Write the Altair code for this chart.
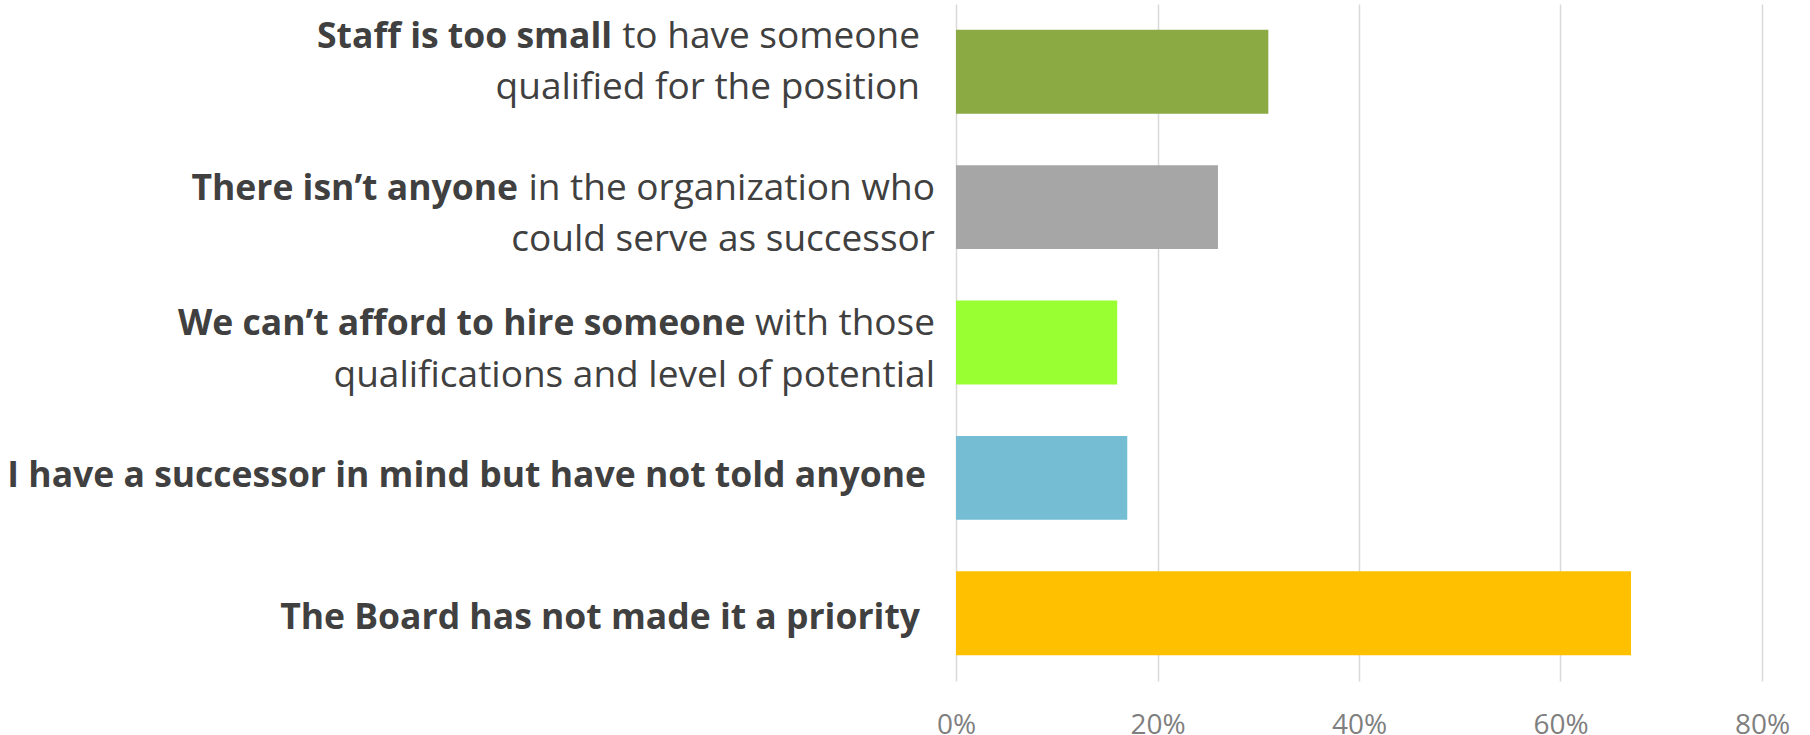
import altair as alt
import pandas as pd

# ---- data ----
categories = [
    "Staff is too small",
    "There isn't anyone",
    "We can't afford to hire someone",
    "I have a successor in mind",
    "The Board has not made it a priority",
]
values = [0.31, 0.26, 0.16, 0.17, 0.67]
colors = ["#8BAA44", "#A6A6A6", "#99FF33", "#75BDD3", "#FFC000"]
x_ticks = [0, 0.2, 0.4, 0.6, 0.8]

# label text pieces: (text, bold) per line
label_lines = [
    [[("Staff is too small", True), (" to have someone", False)],
     [("qualified for the position", False)]],
    [[("There isn\u2019t anyone", True), (" in the organization who", False)],
     [("could serve as successor", False)]],
    [[("We can\u2019t afford to hire someone", True), (" with those", False)],
     [("qualifications and level of potential", False)]],
    [[("I have a successor in mind but have not told anyone", True)]],
    [[("The Board has not made it a priority", True)]],
]

# ---- styling (pixel offsets for the label text) ----
FONT = "Open Sans"
FS_BOLD = 35.5
FS_NORMAL = 37
TEXT_COLOR = "#404040"
right_dx = [-36, -21, -21, -30, -36]
line_dy = [[-23.7, 27.3], [-7.3, 43.5], [-7.5, 44.2], [9.0], [15.3]]
# approximate advance widths (in em) of the regular pieces that follow a bold run
normal_em = {" to have someone": 8.322, " in the organization who": 11.27, " with those": 5.124}

df = pd.DataFrame({"cat": categories, "value": values})

y_enc = alt.Y("cat:N", sort=categories,
              scale=alt.Scale(domain=categories, paddingInner=0.38, paddingOuter=0.19),
              axis=None)

bars = alt.Chart(df).mark_bar().encode(
    y=y_enc,
    x=alt.X("value:Q",
            scale=alt.Scale(domain=[0, 0.8], nice=False),
            axis=alt.Axis(format=".0%", values=x_ticks, grid=True, gridColor="#D9D9D9",
                          gridWidth=1.5, domain=False, ticks=False, labelFontSize=28,
                          labelFont=FONT, labelColor="#7F7F7F", labelPadding=30,
                          labelFlush=False, title=None)),
    color=alt.Color("cat:N", scale=alt.Scale(domain=categories, range=colors), legend=None),
)

layers = [bars]
for i, lines in enumerate(label_lines):
    for j, pieces in enumerate(lines):
        offset = 0
        for text, bold in reversed(pieces):
            piece_df = pd.DataFrame({"cat": [categories[i]], "text": [text]})
            layers.append(
                alt.Chart(piece_df).mark_text(
                    align="right", baseline="alphabetic",
                    dx=right_dx[i] - offset, dy=line_dy[i][j],
                    font=FONT, fontSize=FS_BOLD if bold else FS_NORMAL,
                    fontWeight="bold" if bold else "normal",
                    color=TEXT_COLOR,
                ).encode(y=y_enc, x=alt.value(0), text="text:N")
            )
            if not bold:
                offset += normal_em.get(text, 0) * FS_NORMAL

chart = alt.layer(*layers).properties(
    width=806, height=677,
    autosize=alt.AutoSizeParams(type="none"),
    padding={"left": 956, "right": 48, "top": 4, "bottom": 54},
).configure_view(stroke=None)

chart.save("out.html", embed_options={"renderer": "svg", "actions": False})
